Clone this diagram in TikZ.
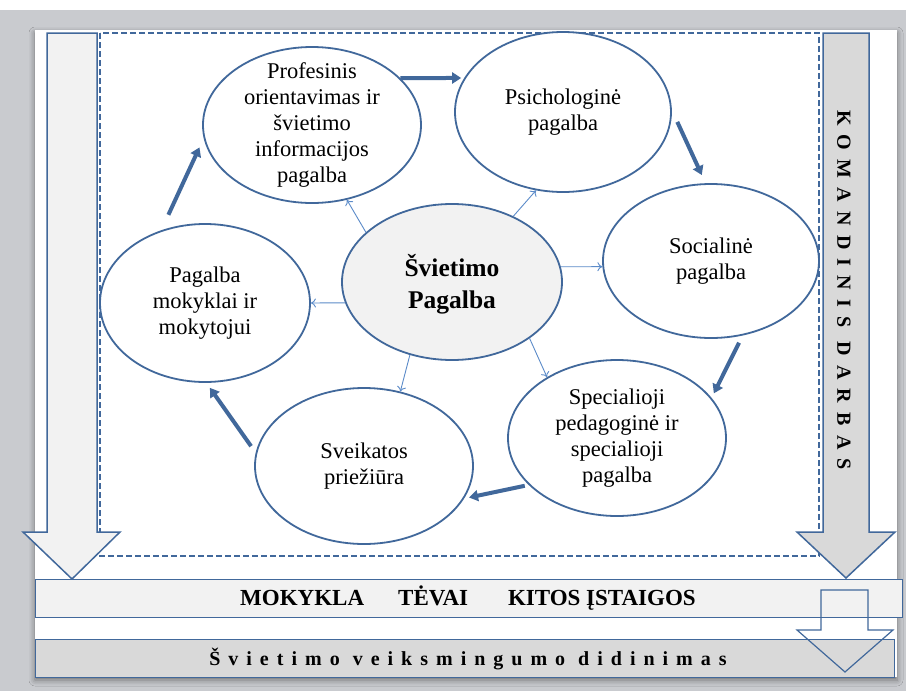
\documentclass[tikz,border=0pt]{standalone}
\usepackage{fontspec}
\setmainfont{Liberation Serif}
\newfontfamily\spacedfont[LetterSpace=40]{Liberation Serif}
\newfontfamily\spacedfontb[LetterSpace=46]{Liberation Serif}
\usetikzlibrary{shapes.geometric,arrows.meta,shadows.blur}
\definecolor{frame}{RGB}{65,104,155}
\definecolor{thinc}{RGB}{91,139,201}
\definecolor{bgray}{RGB}{201,203,207}
\definecolor{lgray}{RGB}{242,242,242}
\definecolor{mgray}{RGB}{217,217,217}
\tikzset{
  ell/.style={ellipse, draw=frame, line width=1.8pt, inner sep=0pt, fill=white},
  etxt/.style={align=center, font=\fontsize{22.5}{26}\selectfont, inner sep=0pt},
  thinarr/.style={draw=thinc, line width=0.9pt, -{To[length=5pt,width=9pt]}},
  thickarr/.style={draw=frame, line width=4pt, -{Triangle[length=9pt,width=11pt]}},
  bigarrow/.style={draw=frame, line width=1.5pt, line join=miter},
  bar/.style={draw=frame, line width=0.9pt},
}
\begin{document}
\begin{tikzpicture}[x=1pt,y=-1pt]
\useasboundingbox (0,0) rectangle (906,691);
\fill[white] (0,0) rectangle (906,691);
\fill[bgray] (0,10) rectangle (906,691);
\fill[white, blur shadow={shadow xshift=0pt, shadow yshift=-3pt, shadow blur radius=6pt, shadow opacity=45}] (35,30) rectangle (897,677);

% dashed frame
\draw[frame, line width=1.6pt, dash pattern=on 6pt off 3pt] (100,33) rectangle (819,556);

% big side arrows
\filldraw[bigarrow, fill=lgray] (47,33) -- (97,33) -- (97,532) -- (120,532) -- (72,579) -- (23,532) -- (47,532) -- cycle;
\filldraw[bigarrow, fill=mgray] (823,33) -- (869,33) -- (869,532) -- (895,532) -- (846,578) -- (797,532) -- (823,532) -- cycle;

% bars
\filldraw[bar, fill=lgray] (35,579) rectangle (902,617);
\filldraw[bar, fill=mgray] (35,639) rectangle (894,677);
\draw[frame, line width=1.2pt, line join=miter] (821,590) -- (868,590) -- (868,630) -- (893,630) -- (845,672) -- (797,630) -- (821,630) -- cycle;

\node[font=\bfseries\fontsize{23}{27}\selectfont, inner sep=0pt] (mk) at (468,598) {MOKYKLA\hspace{34pt}TĖVAI\hspace{40pt}KITOS ĮSTAIGOS};
\node[font=\spacedfont\bfseries\fontsize{20}{24}\selectfont, inner sep=0pt] (sv) at (468,659) {Švietimo veiksmingumo didinimas};
\node[font=\spacedfontb\bfseries\fontsize{20}{24}\selectfont, inner sep=0pt, rotate=-90] (kd) at (844,290) {KOMANDINIS DARBAS};

% ellipses
\node[ell, minimum width=218pt, minimum height=156pt] (prof) at (312,125) {};
\node[ell, minimum width=216pt, minimum height=160pt] (psich) at (563,112) {};
\node[ell, minimum width=216pt, minimum height=154pt] (soc) at (711,261) {};
\node[ell, minimum width=218pt, minimum height=156pt] (spec) at (617,438) {};
\node[ell, minimum width=218pt, minimum height=156pt] (sveik) at (364,466) {};
\node[ell, minimum width=210pt, minimum height=158pt] (pag) at (205,303) {};
\node[ell, fill=lgray, minimum width=220pt, minimum height=156pt] (cen) at (452,282) {};

\node[etxt] (proft) at (prof) {Profesinis\\orientavimas ir\\švietimo\\informacijos\\pagalba};
\node[etxt] (psicht) at (psich) {Psichologinė\\pagalba};
\node[etxt] (soct) at (soc) {Socialinė\\pagalba};
\node[etxt] (spect) at (spec) {Specialioji\\pedagoginė ir\\specialioji\\pagalba};
\node[etxt] (sveikt) at (sveik) {Sveikatos\\priežiūra};
\node[etxt] (pagt) at (pag) {Pagalba\\mokyklai ir\\mokytojui};
\node[align=center, inner sep=0pt, font=\bfseries\fontsize{25.5}{32}\selectfont] (cent) at ([yshift=-2pt]cen) {Švietimo\\Pagalba};

% thin arrows from centre
\draw[thinarr] (cen.150) -- (prof.-65);
\draw[thinarr] (cen.47) -- (psich.-109);
\draw[thinarr] (cen.8) -- (soc.183);
\draw[thinarr] (cen.191) -- (pag.0);
\draw[thinarr] (cen.240) -- (sveik.64);
\draw[thinarr] (cen.-36) -- (spec.139);

% thick cycle arrows
\draw[thickarr, shorten >=3pt] (prof.28) -- (psich.161);
\draw[thickarr, shorten <=13pt, shorten >=9pt] (psich.1) -- (soc.94);
\draw[thickarr, shorten <=8pt, shorten >=5pt] (soc.-67) -- (spec.23);
\draw[thickarr, shorten <=4pt, shorten >=5pt] (spec.208) -- (sveik.-18);
\draw[thickarr, shorten <=8pt, shorten >=6pt] (sveik.173) -- (pag.-89);
\draw[thickarr, shorten <=17pt, shorten >=10pt] (pag.121) -- (prof.187);
\end{tikzpicture}
\end{document}
